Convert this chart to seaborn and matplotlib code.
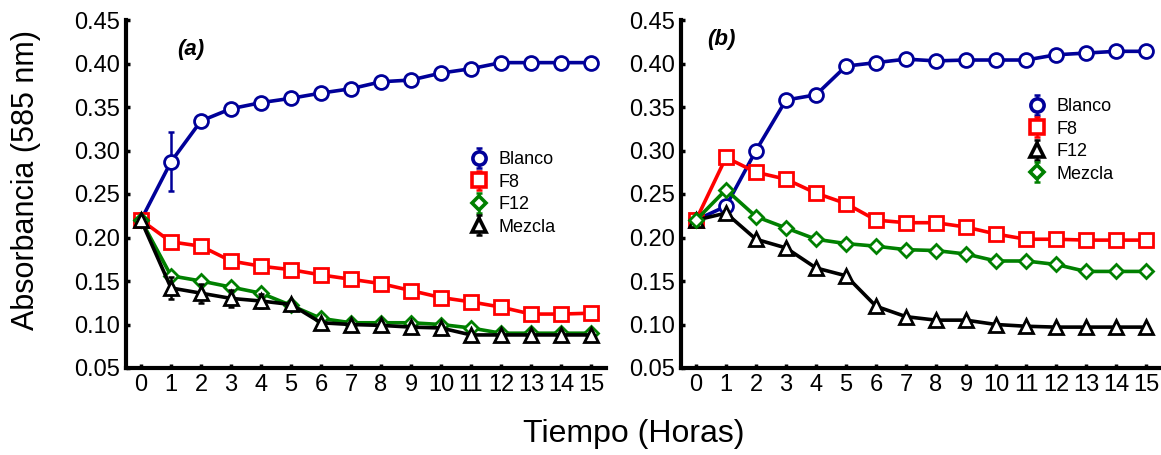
import matplotlib
matplotlib.use("Agg")
import matplotlib.pyplot as plt
from matplotlib.lines import Line2D
from matplotlib.legend_handler import HandlerErrorbar
import seaborn as sns
import numpy as np

hours = list(range(16))
hour_labels = [str(h) for h in hours]

# Panel (a)
a_blanco = [0.220, 0.287, 0.334, 0.348, 0.355, 0.360, 0.366, 0.371, 0.379, 0.381, 0.389, 0.394, 0.401, 0.401, 0.401, 0.401]
a_blanco_err = [0, 0.034, 0, 0, 0, 0, 0, 0, 0, 0, 0, 0, 0, 0, 0, 0]
a_f8 = [0.220, 0.195, 0.190, 0.173, 0.167, 0.163, 0.157, 0.152, 0.147, 0.139, 0.131, 0.126, 0.120, 0.112, 0.112, 0.113]
a_f8_err = [0] * 16
a_f12 = [0.220, 0.156, 0.150, 0.143, 0.136, 0.122, 0.107, 0.102, 0.102, 0.102, 0.100, 0.096, 0.090, 0.090, 0.090, 0.090]
a_f12_err = [0] * 16
a_mezcla = [0.220, 0.142, 0.136, 0.130, 0.127, 0.123, 0.102, 0.100, 0.099, 0.097, 0.096, 0.088, 0.088, 0.088, 0.088, 0.088]
a_mezcla_err = [0, 0.013, 0.011, 0.010, 0.008, 0, 0, 0, 0, 0, 0, 0, 0, 0, 0, 0]

# Panel (b)
b_blanco = [0.220, 0.236, 0.300, 0.358, 0.364, 0.397, 0.401, 0.405, 0.403, 0.404, 0.404, 0.404, 0.410, 0.412, 0.414, 0.414]
b_f8 = [0.220, 0.292, 0.275, 0.267, 0.251, 0.239, 0.220, 0.217, 0.217, 0.212, 0.204, 0.198, 0.198, 0.197, 0.197, 0.197]
b_f12 = [0.220, 0.228, 0.198, 0.188, 0.165, 0.156, 0.121, 0.109, 0.105, 0.105, 0.100, 0.098, 0.097, 0.097, 0.097, 0.097]
b_mezcla = [0.220, 0.255, 0.224, 0.211, 0.198, 0.193, 0.190, 0.186, 0.185, 0.181, 0.173, 0.173, 0.169, 0.161, 0.161, 0.161]
b_err = [0] * 16

y_ticks = [0.05, 0.10, 0.15, 0.20, 0.25, 0.30, 0.35, 0.40, 0.45]

NAVY = "#000099"
RED = "#ff0000"
GREEN = "#008000"
BLACK = "#000000"

MARKER_SIZE = {"o": 10.0, "s": 10.0, "D": 7.2, "^": 10.0}

sns.set_style("ticks")
plt.rcParams["font.family"] = ["Liberation Sans", "DejaVu Sans"]
plt.rcParams["text.color"] = "black"

fig = plt.figure(figsize=(11.61, 4.55), dpi=100)
ax_a = fig.add_axes([126 / 1161, 1 - 368 / 455, 480 / 1161, 348 / 455])
ax_b = fig.add_axes([681 / 1161, 1 - 368 / 455, 480 / 1161, 348 / 455])


def draw_series(ax, y, err, color, marker, label, z, lw=2.6):
    ms = MARKER_SIZE[marker]
    sns.lineplot(x=hours, y=y, ax=ax, color=color, linewidth=lw, marker=marker,
                 markersize=ms, markerfacecolor="white", markeredgecolor=color,
                 markeredgewidth=2.0, zorder=z, legend=False)
    eb = ax.errorbar(hours, y, yerr=err, fmt="none", ecolor=color, elinewidth=1.8,
                     capsize=2.5, capthick=1.8, zorder=z - 0.5)
    mk = Line2D([], [], linestyle="none", marker=marker, markersize=ms * 0.95,
                markerfacecolor="white", markeredgecolor=color, markeredgewidth=2.6)
    return (eb, mk), label


def style_axes(ax):
    ax.set_xlim(-0.5, 15.5)
    ax.set_ylim(0.05, 0.45)
    ax.set_xticks(hours)
    ax.set_xticklabels(hour_labels)
    ax.set_yticks(y_ticks)
    ax.set_yticklabels([f"{v:.2f}" for v in y_ticks])
    for s in ["top", "right"]:
        ax.spines[s].set_visible(False)
    for s in ["left", "bottom"]:
        ax.spines[s].set_linewidth(3.0)
        ax.spines[s].set_color("black")
    ax.tick_params(axis="both", direction="in", length=3, width=2.5, labelsize=17,
                   colors="black", pad=4)
    ax.set_xlabel("")
    ax.set_ylabel("")


legend_kw = dict(loc="upper left", frameon=False, fontsize=13, handlelength=1.0,
                 handletextpad=0.6, labelspacing=0.3, borderpad=0, borderaxespad=0,
                 handler_map={matplotlib.container.ErrorbarContainer:
                              HandlerErrorbar(yerr_size=0.55)})

# Panel (a)
h = []
h.append(draw_series(ax_a, a_blanco, a_blanco_err, NAVY, "o", "Blanco", 5))
h.append(draw_series(ax_a, a_f8, a_f8_err, RED, "s", "F8", 6))
h.append(draw_series(ax_a, a_f12, a_f12_err, GREEN, "D", "F12", 7))
h.append(draw_series(ax_a, a_mezcla, a_mezcla_err, BLACK, "^", "Mezcla", 8))
style_axes(ax_a)
ax_a.legend([x[0] for x in h], [x[1] for x in h],
            bbox_to_anchor=(10.95, 0.299), bbox_transform=ax_a.transData, **legend_kw)
ax_a.text(1.65, 0.416, "(a)", fontsize=16, fontweight="bold", fontstyle="italic",
          ha="center", va="center")

# Panel (b)
h = []
h.append(draw_series(ax_b, b_blanco, b_err, NAVY, "o", "Blanco", 5))
h.append(draw_series(ax_b, b_f8, b_err, RED, "s", "F8", 6))
h.append(draw_series(ax_b, b_f12, b_err, BLACK, "^", "F12", 7))
h.append(draw_series(ax_b, b_mezcla, b_err, GREEN, "D", "Mezcla", 8))
style_axes(ax_b)
ax_b.legend([x[0] for x in h], [x[1] for x in h],
            bbox_to_anchor=(11.05, 0.360), bbox_transform=ax_b.transData, **legend_kw)
ax_b.text(0.84, 0.428, "(b)", fontsize=16, fontweight="bold", fontstyle="italic",
          ha="center", va="center")

fig.text(26 / 1161, 1 - 180 / 455, "Absorbancia (585 nm)", rotation=90,
         fontsize=22, ha="center", va="center", color="black")
fig.text(634 / 1161, 1 - 434 / 455, "Tiempo (Horas)", fontsize=23,
         ha="center", va="center", color="black")

fig.savefig("out.png", dpi=100)
